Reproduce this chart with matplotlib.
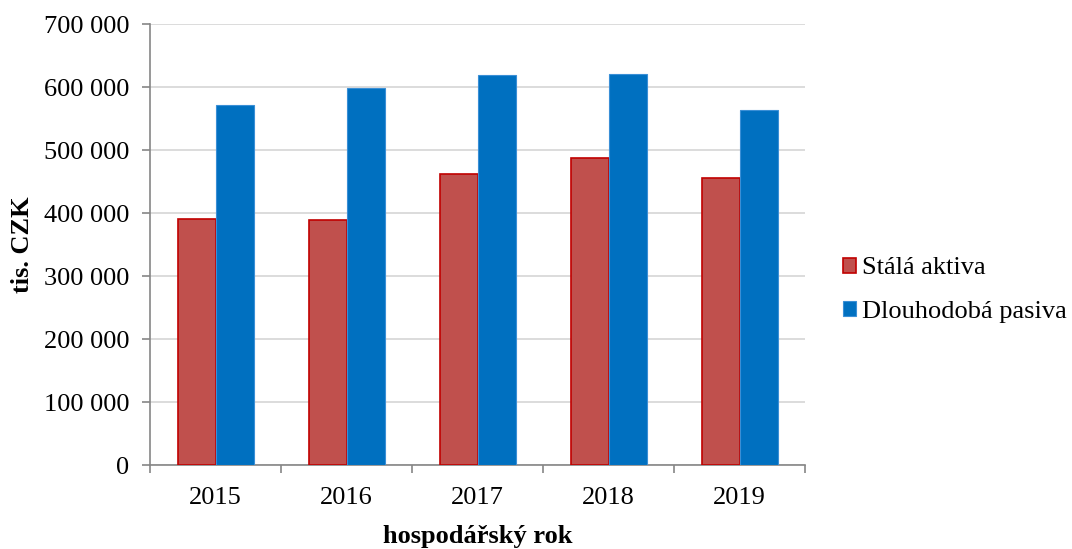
import numpy as np
import matplotlib.pyplot as plt
from matplotlib.ticker import FuncFormatter, FixedLocator

# data
years = ['2015', '2016', '2017', '2018', '2019']
stala_aktiva = [391000, 389000, 462000, 488000, 456000]
dlouhodoba_pasiva = [572000, 598000, 619000, 621000, 564000]

plt.rcParams['font.family'] = ['Liberation Serif', 'DejaVu Serif']
fs = 19

fig = plt.figure(figsize=(10.72, 5.49), dpi=100)
ax = fig.add_axes([0.14, 0.153, 0.611, 0.803])

x = np.arange(len(years))
w = 0.29
ax.bar(x - w / 2, stala_aktiva, w, color='#C0504D', edgecolor='#C00000',
       linewidth=1.2, label='Stálá aktiva', zorder=3)
ax.bar(x + w / 2, dlouhodoba_pasiva, w, color='#0070C0', edgecolor='#3A8FD6',
       linewidth=0.8, label='Dlouhodobá pasiva', zorder=3)

ax.set_xlim(-0.5, len(years) - 0.5)
ax.set_ylim(0, 700000)
ax.set_yticks(np.arange(0, 700001, 100000))
ax.yaxis.set_major_formatter(FuncFormatter(lambda v, p: f'{int(v):,}'.replace(',', ' ')))
ax.grid(axis='y', color='#D9D9D9', linewidth=1.3, zorder=0)

ax.set_xticks(x)
ax.set_xticklabels(years)
ax.xaxis.set_minor_locator(FixedLocator(np.arange(-0.5, len(years), 1.0)))
ax.tick_params(axis='x', which='major', length=0, pad=16, labelsize=fs)
ax.tick_params(axis='x', which='minor', length=6, color='#868686', width=1.2)
ax.tick_params(axis='y', length=6, color='#868686', width=1.2, labelsize=fs, pad=9)

for s in ['top', 'right']:
    ax.spines[s].set_visible(False)
for s in ['left', 'bottom']:
    ax.spines[s].set_color('#868686')
    ax.spines[s].set_linewidth(1.2)

ax.set_xlabel('hospodářský rok', fontsize=fs, fontweight='bold', labelpad=11)
ax.set_ylabel('tis. CZK', fontsize=fs, fontweight='bold', labelpad=7)

fig.legend(loc='center left', bbox_to_anchor=(0.786, 1 - 290 / 549), frameon=False,
           fontsize=fs, handlelength=0.5, handleheight=0.5, handletextpad=0.25,
           labelspacing=0.8, borderpad=0, borderaxespad=0)

plt.savefig('out.png', dpi=100)
